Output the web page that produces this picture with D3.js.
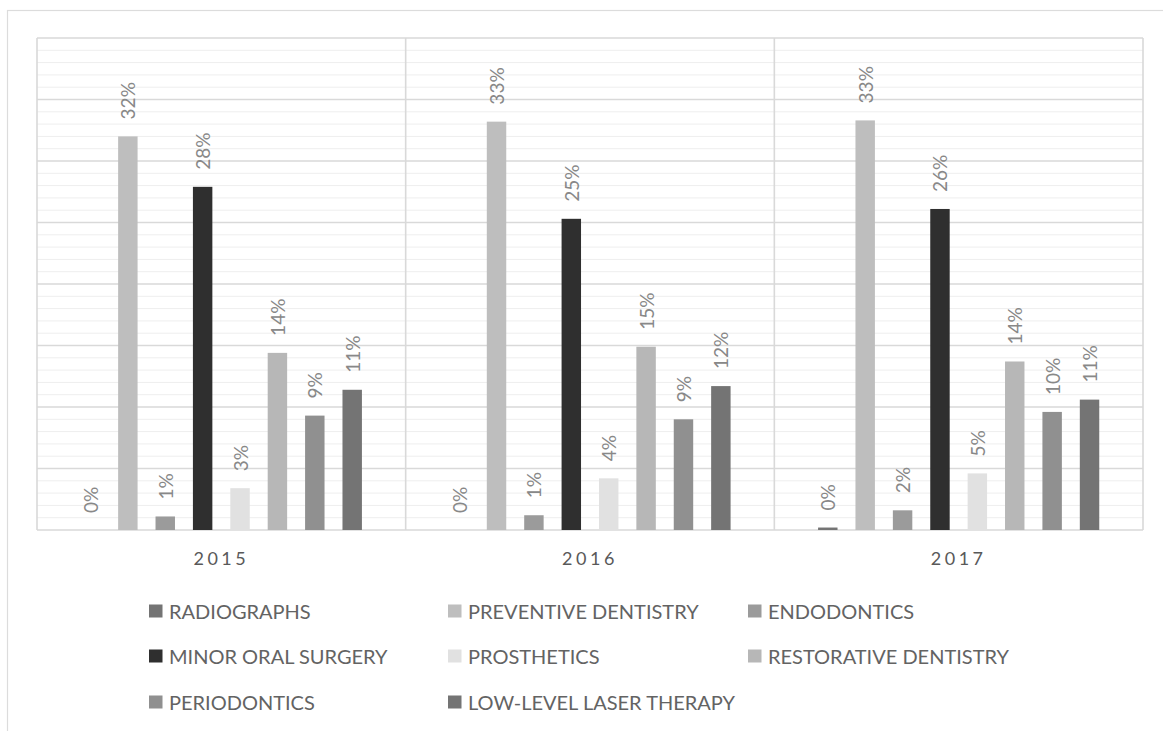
<!DOCTYPE html>
<html>
<head>
<meta charset="utf-8">
<script src="https://cdn.jsdelivr.net/npm/d3@7"></script>
<style>
  html, body { margin: 0; padding: 0; background: #ffffff; }
  svg { display: block; }
  text { font-family: Lato, "Open Sans", sans-serif; }
</style>
</head>
<body>
<svg id="chart" width="1163" height="731"></svg>
<script>
// Years shown on the category axis
const years = ["2015", "2016", "2017"];

// Treatment types (one bar per year each)
const treatments = [
  "RADIOGRAPHS",
  "PREVENTIVE DENTISTRY",
  "ENDODONTICS",
  "MINOR ORAL SURGERY",
  "PROSTHETICS",
  "RESTORATIVE DENTISTRY",
  "PERIODONTICS",
  "LOW-LEVEL LASER THERAPY"
];

// Share of treatments per year, in percent (2015, 2016, 2017)
const radiographs   = [0.0, 0.0, 0.2];
const preventive    = [32.0, 33.2, 33.3];
const endodontics   = [1.1, 1.2, 1.6];
const minorSurgery  = [27.9, 25.3, 26.1];
const prosthetics   = [3.4, 4.2, 4.6];
const restorative   = [14.4, 14.9, 13.7];
const periodontics  = [9.3, 9.0, 9.6];
const laserTherapy  = [11.4, 11.7, 10.6];

const seriesValues = [radiographs, preventive, endodontics, minorSurgery,
                      prosthetics, restorative, periodontics, laserTherapy];

// Grey fills per treatment
const fills = ["#747474", "#bebebe", "#9b9b9b", "#2f2f2f",
               "#e1e1e1", "#b7b7b7", "#909090", "#747474"];

// Axis extent and gridline steps (percent)
const yMax = 40;
const majorStep = 5;
const minorStep = 1;

const svg = d3.select("#chart");

// Outer chart frame
svg.append("rect")
  .attr("x", 7.5).attr("y", 10.5)
  .attr("width", 1200).attr("height", 800)
  .attr("fill", "none").attr("stroke", "#dcdcdc").attr("stroke-width", 1.2);

const plot = { left: 37, right: 1143, top: 38, bottom: 530 };

const y = d3.scaleLinear().domain([0, yMax]).range([plot.bottom, plot.top]);
const x0 = d3.scaleBand().domain(years).range([plot.left, plot.right]).padding(0);
const x1 = d3.scaleBand().domain(treatments).range([0, x0.bandwidth()])
  .paddingInner(0.48).paddingOuter(1.17);

const grid = svg.append("g");

// Minor gridlines every 1%
grid.selectAll("line.minor")
  .data(d3.range(0, yMax + minorStep / 2, minorStep).filter(v => v % majorStep !== 0))
  .join("line")
  .attr("class", "minor")
  .attr("x1", plot.left).attr("x2", plot.right)
  .attr("y1", d => y(d)).attr("y2", d => y(d))
  .attr("stroke", "#eeeeee").attr("stroke-width", 1);

// Major gridlines every 5%
grid.selectAll("line.major")
  .data(d3.range(0, yMax + majorStep / 2, majorStep))
  .join("line")
  .attr("class", "major")
  .attr("x1", plot.left).attr("x2", plot.right)
  .attr("y1", d => y(d)).attr("y2", d => y(d))
  .attr("stroke", "#d9d9d9").attr("stroke-width", 1.6);

// Vertical dividers between year groups and at the plot edges
const dividers = years.map(yr => x0(yr)).concat([plot.right]);
grid.selectAll("line.vdiv")
  .data(dividers)
  .join("line")
  .attr("class", "vdiv")
  .attr("x1", d => d).attr("x2", d => d)
  .attr("y1", plot.top).attr("y2", plot.bottom)
  .attr("stroke", "#d9d9d9").attr("stroke-width", 1.6);

// Bars and rotated value labels
const rows = [];
years.forEach((yr, yi) => {
  treatments.forEach((t, ti) => {
    rows.push({ year: yr, treatment: t, value: seriesValues[ti][yi], fill: fills[ti] });
  });
});

const bars = svg.append("g");
bars.selectAll("rect")
  .data(rows)
  .join("rect")
  .attr("x", d => x0(d.year) + x1(d.treatment))
  .attr("y", d => y(d.value))
  .attr("width", x1.bandwidth())
  .attr("height", d => y(0) - y(d.value))
  .attr("fill", d => d.fill);

const fmt = d3.format(".0f");
bars.selectAll("text")
  .data(rows)
  .join("text")
  .attr("transform", d => {
    const cx = x0(d.year) + x1(d.treatment) + x1.bandwidth() / 2;
    const cy = y(d.value) - 17;
    return `translate(${cx},${cy}) rotate(-90)`;
  })
  .attr("text-anchor", "start")
  .attr("dominant-baseline", "central")
  .attr("font-size", 19)
  .attr("fill", "#888888")
  .text(d => fmt(d.value) + "%");

// Category axis labels
svg.append("g").selectAll("text")
  .data(years)
  .join("text")
  .attr("x", d => x0(d) + x0.bandwidth() / 2)
  .attr("y", 558)
  .attr("text-anchor", "middle")
  .attr("dominant-baseline", "central")
  .attr("font-size", 18)
  .attr("letter-spacing", 3.5)
  .attr("fill", "#595959")
  .text(d => d);

// Legend: three columns, filled row by row
const legendCols = [149, 448, 748];
const legendRows = [611, 656, 702];
const legend = svg.append("g").selectAll("g")
  .data(treatments)
  .join("g")
  .attr("transform", (d, i) => `translate(${legendCols[i % 3]},${legendRows[Math.floor(i / 3)]})`);

legend.append("rect")
  .attr("x", 0).attr("y", -6.5)
  .attr("width", 13.5).attr("height", 13)
  .attr("fill", (d, i) => fills[i]);

legend.append("text")
  .attr("x", 20).attr("y", 0)
  .attr("dominant-baseline", "central")
  .attr("font-size", 20)
  .attr("fill", "#636363")
  .text(d => d);
</script>
</body>
</html>
